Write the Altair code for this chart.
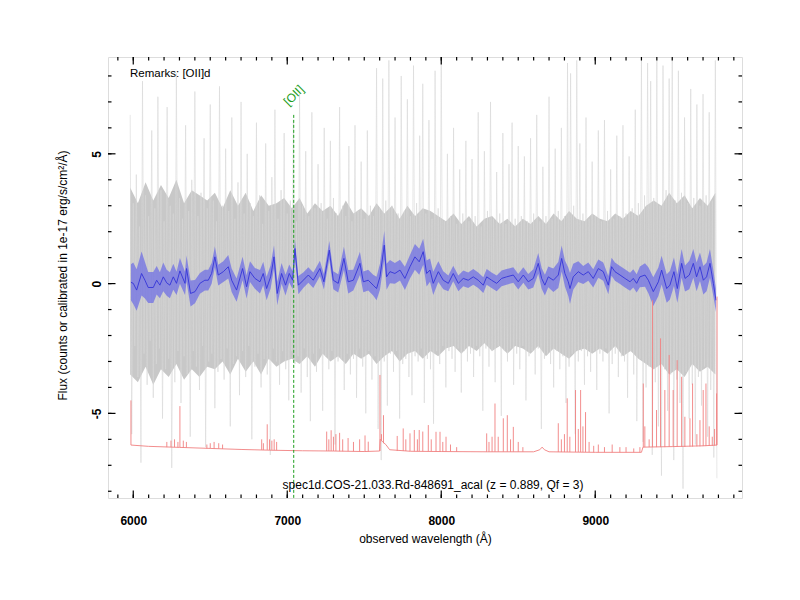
import altair as alt
import pandas as pd

# ---------------- data ----------------
# raw (noisy) spectrum, 10 A grid starting at 5980 A
gray_start, gray_step = 5980, 10
gray_flux = [
    6.5, -5.8, 3.1, -2.4, 4.2, -3.6, 2.2, -6.9, 7.8, -2.7, 3.4, -3.9, 2.6, -2.2, 5.9, -4.4, 2.9, -3.1, 7.2, -2.5,
    3.6, -5.2, 2.4, -3.3, 6.8, -2.9, 3.0, -7.1, 2.7, -3.8, 8.1, -2.6, 3.3, -4.6, 2.5, -2.8, 6.1, -3.5, 2.8, -5.9,
    4.0, -2.6, 7.4, -3.2, 2.6, -4.1, 3.5, -2.4, 5.6, -6.3, 2.9, -3.0, 6.9, -2.7, 3.2, -4.8, 2.4, -3.4, 7.6, -2.9,
    3.0, -3.7, 5.2, -2.5, 2.8, -5.5, 6.4, -3.1, 2.5, -2.8, 3.9, -4.3, 7.0, -2.6, 2.7, -3.6, 5.0, -2.4, 3.1, -6.0,
    2.6, -3.2, 6.2, -2.7, 3.4, -4.0, 2.3, -2.9, 5.4, -3.5, 2.8, -6.6, 4.1, -2.5, 6.7, -3.0, 2.5, -3.9, 3.6, -2.6,
    5.8, -3.3, 2.7, -4.5, 3.2, -2.6, 6.3, -3.1, 2.4, -2.8, 7.3, -4.2, 3.0, -2.5, 5.1, -3.6, 2.6, -5.3, 6.6, -2.7,
    2.9, -3.4, 4.6, -2.5, 3.1, -4.9, 6.0, -2.8, 2.5, -3.3, 5.5, -2.6, 3.3, -6.2, 2.7, -3.0, 6.8, -2.9, 3.0, -4.1,
    2.6, -2.7, 5.3, -3.5, 2.4, -2.9, 6.1, -4.4, 2.8, -2.5, 4.7, -3.2, 2.5, -5.0, 5.9, -2.6, 3.0, -3.7, 2.6, -2.8,
    8.3, -5.6, 2.9, -6.8, 7.9, -3.0, 3.2, -4.7, 8.6, -2.7, 3.0, -3.4, 6.4, -2.6, 2.7, -5.2, 8.0, -3.1, 2.8, -2.9,
    7.1, -3.6, 2.6, -4.3, 8.4, -2.8, 3.1, -3.0, 5.7, -2.5, 7.7, -4.6, 2.7, -2.9, 6.3, -3.3, 2.5, -5.4, 8.2, -2.6,
    2.9, -3.1, 8.7, -2.4, 2.4, -4.0, 5.0, -2.6, 2.6, -2.9, 6.0, -3.4, 2.3, -2.5, 4.4, -4.2, 2.7, -2.6, 5.5, -3.0,
    2.4, -2.7, 4.8, -3.6, 2.6, -2.4, 6.6, -2.8, 2.2, -4.9, 5.1, -2.5, 2.8, -3.2, 7.0, -2.6, 2.5, -3.8, 4.3, -2.4,
    2.7, -5.1, 5.8, -2.6, 2.3, -3.0, 4.6, -2.5, 6.2, -3.9, 2.5, -2.7, 5.3, -3.3, 2.6, -2.4, 4.9, -4.5, 2.4, -2.8,
    5.6, -2.6, 2.7, -3.5, 6.5, -2.5, 2.4, -5.6, 4.5, -2.9, 2.6, -2.7, 7.2, -3.1, 2.5, -4.0, 5.2, -2.6, 2.8, -3.3,
    6.0, -2.8, 2.6, -4.6, 8.5, -3.2, 8.1, -2.7, 3.0, -5.8, 8.6, -3.0, 5.4, -2.6, 2.7, -3.9, 6.4, -2.8, 2.5, -3.4,
    4.7, -2.6, 2.6, -4.1, 5.9, -2.7, 2.4, -3.0, 6.3, -2.5, 2.8, -5.0, 4.4, -3.1, 2.5, -2.7, 5.7, -3.6, 2.6, -2.8,
    6.1, -3.0, 2.7, -4.4, 4.9, -2.6, 2.9, -3.5, 6.7, -5.3, 3.1, -2.9, 8.7, -6.1, 3.4, -4.0, 8.5, -3.2, 7.8, -6.6,
    3.3, -3.8, 8.6, -5.5, 3.0, -7.4, 8.4, -3.3, 3.6, -4.9, 7.9, -3.5, 8.7, -6.8, 3.2, -3.7, 8.2, -4.6, 3.5, -7.9,
    6.4, -3.4, 3.1, -5.2, 7.5, -3.9, 3.3, -6.2, 6.9, -3.6, 3.0, -4.7, 7.3, -3.2, 3.4, -5.9, 6.6, -4.1, 3.2, -6.7,
    8.6, -7.5,
]

# dense core of the raw spectrum (upper / lower edge), 50 A grid starting at 5980 A
core_start, core_step = 5980, 50
core_hi = [
    3.7, 3.1, 3.9, 3.2, 3.8, 3.3, 4.0, 3.1, 3.6, 3.4, 3.2,
    3.5, 2.9, 3.6, 3.0, 3.5, 2.8, 3.4, 3.0, 3.1, 3.3,
    2.9, 3.3, 2.7, 3.1, 2.8, 3.0, 2.6, 3.2, 2.7, 2.9,
    2.6, 3.1, 2.7, 3.0, 2.5, 3.0, 2.6, 2.9, 2.8, 2.6,
    2.4, 2.7, 2.3, 2.6, 2.2, 2.5, 2.6, 2.3, 2.5, 2.2,
    2.5, 2.3, 2.6, 2.3, 2.7, 2.4, 2.8, 2.5, 2.4, 2.7,
    2.5, 2.4, 2.7, 2.5, 2.8, 2.6, 3.0, 3.2, 3.0, 3.5,
    3.1, 3.4, 2.9, 3.3, 3.0, 3.5,
]
core_lo = [
    -3.5, -3.8, -3.2, -3.9, -3.3, -3.6, -3.1, -3.7, -3.3, -3.6, -3.2,
    -3.3, -3.0, -3.5, -2.9, -3.4, -3.0, -3.5, -2.9, -3.2, -3.0,
    -2.9, -3.1, -2.8, -3.2, -2.7, -3.0, -2.8, -3.1, -2.7, -2.9,
    -2.7, -3.1, -2.8, -2.6, -3.0, -2.7, -2.6, -2.9, -2.6, -2.8,
    -2.5, -2.4, -2.7, -2.4, -2.6, -2.3, -2.6, -2.4, -2.7, -2.4,
    -2.5, -2.7, -2.4, -2.8, -2.5, -2.7, -2.9, -2.6, -2.5, -2.7,
    -2.5, -2.7, -2.4, -2.8, -2.6, -2.9, -3.1, -3.3, -3.1, -3.5,
    -3.3, -3.6, -3.1, -3.4, -3.2, -3.5,
]

# smoothed spectrum and its uncertainty band
blue_wl = [
    5985, 6000, 6022, 6054, 6076, 6097, 6130, 6152, 6173, 6195, 6217, 6238, 6260, 6281, 6303, 6336, 6346, 6372,
    6401, 6433, 6465, 6487, 6509, 6530, 6552, 6585, 6617, 6639, 6671, 6710, 6736, 6758, 6790, 6823, 6844, 6866,
    6892, 6914, 6935, 6963, 6989, 7013, 7035, 7050, 7072, 7104, 7137, 7169, 7212, 7238, 7273, 7299, 7331,
    7368, 7396, 7429, 7472, 7494, 7526, 7558, 7580, 7602, 7630, 7645, 7667, 7699, 7732, 7764, 7797, 7829, 7857,
    7883, 7905, 7927, 7948, 7981, 8013, 8046, 8078, 8111, 8143, 8175, 8208, 8240, 8273, 8295, 8327, 8360, 8392,
    8424, 8468, 8500, 8533, 8565, 8598,
    8630, 8652, 8673, 8695, 8728, 8760, 8782, 8803, 8825, 8836, 8857, 8890, 8922, 8955, 8987, 9020, 9052, 9085,
    9106, 9128, 9161, 9193, 9226, 9247, 9269, 9290, 9323, 9345, 9377, 9410, 9431, 9464, 9485, 9511, 9533, 9561,
    9583, 9611, 9637, 9658, 9680, 9702, 9723, 9745, 9767, 9784,
]
blue_flux = [
    0.05, 0.01, -0.25, 0.39, 0.13, -0.15, -0.15, 0.13, -0.06, 0.26, 0.03, -0.06, 0.26, 0.01, 0.49, 0.01, 0.58, -0.38,
    -0.31, 0.01, 0.13, 0.13, 0.39, 1.03, 0.33, 0.46, 0.65, 0.13, -0.25, 0.58, -0.12, 0.46, 0.20, 0.07, 0.39, -0.19,
    0.26, 1.03, -0.38, 0.39, -0.06, 0.39, 0.13, 1.35, -0.06, 0.13, 0.33, 0.13, 0.58, 0.07, 1.29, 0.13, 0.01,
    0.97, 0.07, 0.13, 0.78, 0.07, 0.13, -0.06, -0.19, 0.26, 1.48, 0.26, 0.46, 0.39, 0.52, 0.20, 0.65, 1.03, 0.84,
    1.23, 0.39, 0.52, 0.01, 0.46, 0.13, 0.01, 0.39, 0.01, 0.20, 0.13, 0.26, 0.13, -0.06, 0.26, 0.13, 0.01, 0.20,
    0.26, 0.33, 0.07, 0.33, 0.07, 0.20,
    0.78, 0.20, -0.06, 0.26, 0.13, 0.33, 0.97, 0.39, 0.07, -0.19, 0.26, 0.46, 0.33, 0.46, 0.20, 0.58, 0.46, -0.06,
    0.65, 0.46, 0.33, 0.20, 0.07, 0.20, 0.01, 0.26, 0.33, 0.13, -0.31, 0.07, 0.52, -0.19, -0.06, 0.46, -0.19, 0.78,
    0.20, 0.33, 0.78, 0.26, 0.65, 0.13, 0.26, 0.78, 0.01, -0.64,
]
blue_err = [
    0.7, 0.8, 0.8, 0.85, 0.7, 0.6, 0.6, 0.55, 0.5, 0.55, 0.5, 0.5, 0.5, 0.45, 0.5, 0.45, 0.5, 0.5,
    0.45, 0.4, 0.4, 0.4, 0.4, 0.4, 0.4, 0.4, 0.45, 0.45, 0.45, 0.45, 0.45, 0.4, 0.4, 0.45, 0.45, 0.45,
    0.45, 0.45, 0.45, 0.4, 0.4, 0.35, 0.35, 0.35, 0.35, 0.3, 0.3, 0.3, 0.3, 0.3, 0.35, 0.35, 0.35,
    0.45, 0.45, 0.4, 0.45, 0.4, 0.4, 0.4, 0.45, 0.5, 0.55, 0.5, 0.45, 0.4, 0.4, 0.45, 0.45, 0.5, 0.5,
    0.5, 0.5, 0.45, 0.45, 0.4, 0.35, 0.3, 0.3, 0.3, 0.3, 0.3, 0.3, 0.3, 0.3, 0.3, 0.3, 0.3, 0.3,
    0.3, 0.3, 0.3, 0.3, 0.3, 0.35,
    0.4, 0.4, 0.4, 0.4, 0.45, 0.5, 0.5, 0.5, 0.55, 0.6, 0.5, 0.4, 0.35, 0.35, 0.35, 0.35, 0.35, 0.35,
    0.35, 0.35, 0.35, 0.35, 0.35, 0.35, 0.35, 0.4, 0.45, 0.5, 0.55, 0.55, 0.55, 0.55, 0.55, 0.55, 0.55, 0.55,
    0.5, 0.55, 0.55, 0.55, 0.55, 0.55, 0.55, 0.55, 0.5, 0.45,
]

# sky spectrum: continuum and emission lines (wavelength, peak, base)
sky_cont_wl = [5985, 6100, 6300, 6500, 6700, 6900, 7100, 7300, 7500, 7600, 7604, 7620, 7640, 7665, 7800,
               8000, 8300, 8600, 8640, 8655, 8670, 8700, 9000, 9300, 9310, 9500, 9700, 9790]
sky_cont_flux = [-6.22, -6.27, -6.31, -6.35, -6.39, -6.42, -6.44, -6.45, -6.47, -6.45, -6.0, -6.1, -6.2, -6.4, -6.46,
                 -6.47, -6.48, -6.48, -6.4, -6.3, -6.4, -6.48, -6.5, -6.5, -6.3, -6.28, -6.25, -6.22]
sky_line_wl = [5985, 6218, 6245, 6268, 6290, 6303, 6325, 6345, 6478, 6500, 6525, 6555, 6580,
               6834, 6845, 6870, 6885, 6900, 6915, 6931, 7256, 7270, 7285, 7300, 7316, 7340, 7360, 7395,
               7430, 7470, 7505, 7526, 7602, 7612, 7625, 7714, 7753, 7770, 7797, 7825, 7845, 7857, 7880,
               7916, 7935, 7966, 7992, 8010, 8031, 8060, 8100, 8295, 8310, 8330, 8349, 8370, 8403, 8429,
               8450, 8468, 8500, 8530, 8760, 8780, 8800, 8818, 8835, 8872, 8890, 8905, 8920, 8937, 8960,
               8990, 9020, 9060, 9110, 9160, 9200, 9250, 9290, 9312, 9322, 9350, 9372, 9398, 9424, 9452,
               9480, 9506, 9532, 9561, 9582, 9615, 9632, 9660, 9680, 9701, 9719, 9740, 9760, 9775, 9788, 9791]
sky_line_peak = [-4.5, -6.1, -6.05, -6.0, -6.1, -4.72, -6.05, -6.1, -6.2, -6.15, -6.1, -6.15, -6.2,
                 -6.0, -6.15, -5.42, -6.0, -6.05, -6.0, -6.1, -5.7, -6.0, -5.65, -5.9, -5.8, -5.75, -6.0, -5.95,
                 -6.1, -6.0, -5.85, -6.09, -3.52, -5.8, -5.07, -5.87, -5.58, -6.0, -5.77, -5.64, -6.0, -5.64, -5.7,
                 -5.45, -6.0, -5.71, -5.71, -6.1, -5.9, -6.2, -6.3, -5.77, -6.1, -5.9, -4.62, -5.9, -5.19, -5.07,
                 -6.0, -5.52, -6.1, -6.3, -5.38, -6.0, -5.8, -4.42, -5.9, -4.1, -5.6, -4.1, -5.5, -4.95, -6.1,
                 -6.25, -6.2, -6.3, -6.2, -6.3, -6.3, -6.35, -6.3, -3.85, -5.5, -6.0, -0.64, -4.87, -2.11, -4.1,
                 -2.75, -4.1, -2.95, -3.59, -5.13, -5.19, -3.85, -5.8, -5.26, -4.1, -3.85, -5.5, -5.9, -5.6, -4.23, -0.5]
sky_line_base = [-6.22, -6.3, -6.3, -6.3, -6.31, -6.31, -6.32, -6.32, -6.35, -6.35, -6.36, -6.36, -6.37,
                 -6.41, -6.41, -6.41, -6.41, -6.42, -6.42, -6.42, -6.45, -6.45, -6.45, -6.45, -6.45, -6.46, -6.46, -6.46,
                 -6.46, -6.47, -6.47, -6.47, -6.45, -6.05, -6.15, -6.45, -6.45, -6.45, -6.46, -6.46, -6.46, -6.46, -6.46,
                 -6.46, -6.46, -6.47, -6.47, -6.47, -6.47, -6.47, -6.48, -6.48, -6.48, -6.48, -6.48, -6.48, -6.48, -6.48,
                 -6.48, -6.48, -6.48, -6.48, -6.49, -6.49, -6.49, -6.49, -6.49, -6.49, -6.49, -6.49, -6.49, -6.49, -6.49,
                 -6.5, -6.5, -6.5, -6.5, -6.5, -6.5, -6.5, -6.5, -6.3, -6.3, -6.3, -6.3, -6.3, -6.3, -6.3,
                 -6.29, -6.29, -6.29, -6.29, -6.29, -6.28, -6.28, -6.27, -6.27, -6.26, -6.26, -6.25, -6.25, -6.24, -6.23, -6.22]

oii_wl = 7042
oii_top = 6.5
oii_label_y = 7.25

x_major = [6000, 7000, 8000, 9000]
x_minor = list(range(5900, 10000, 100))
y_major = [-5, 0, 5]
y_minor = list(range(-8, 9))

remarks = "Remarks: [OII]d"
spec_label = "spec1d.COS-21.033.Rd-848691_acal (z = 0.889, Qf = 3)"
x_title = "observed wavelength (Å)"
y_title = "Flux (counts or calibrated in 1e-17 erg/s/cm²/Å)"

# ---------------- chart ----------------
W, H = 634, 441
FONT = "Liberation Sans"
xs = alt.Scale(domain=[5836, 9953], nice=False, zero=False)
ys = alt.Scale(domain=[-8.26, 8.73], nice=False, zero=False)

gray_df = pd.DataFrame({"wl": [gray_start + gray_step * i for i in range(len(gray_flux))], "f": gray_flux})
core_df = pd.DataFrame({"wl": [core_start + core_step * i for i in range(len(core_hi))],
                        "lo": core_lo, "hi": core_hi})
blue_df = pd.DataFrame({"wl": blue_wl, "f": blue_flux, "err": blue_err})
blue_df["lo"] = blue_df["f"] - blue_df["err"]
blue_df["hi"] = blue_df["f"] + blue_df["err"]
cont_df = pd.DataFrame({"wl": sky_cont_wl, "f": sky_cont_flux})
lines_df = pd.DataFrame({"wl": sky_line_wl, "peak": sky_line_peak, "base": sky_line_base})

xaxis = alt.Axis(values=x_major, ticks=False, tickSize=0, domain=False, grid=False,
                 labelFont=FONT, labelFontSize=12, labelFontWeight="bold", labelColor="black",
                 labelPadding=22, labelBaseline="middle", labelExpr="'' + datum.value",
                 title=x_title, titleFont=FONT, titleFontSize=12, titleFontWeight="normal",
                 titleColor="black", titleY=40, titleBaseline="middle", titleX=W / 2, titleAlign="center")
yaxis = alt.Axis(values=y_major, ticks=False, tickSize=0, domain=False, grid=False,
                 labelFont=FONT, labelFontSize=12, labelFontWeight="bold", labelColor="black",
                 labelAngle=270, labelAlign="center", labelBaseline="middle", labelPadding=12,
                 labelExpr="'' + datum.value",
                 title=y_title, titleFont=FONT, titleFontSize=12, titleFontWeight="normal",
                 titleColor="black", titleAngle=270, titleX=-46, titleY=218, titleAlign="center",
                 titleBaseline="middle")


def X(field):
    return alt.X(field, scale=xs, axis=xaxis)


def Y(field):
    return alt.Y(field, scale=ys, axis=yaxis)


core = alt.Chart(core_df).mark_area(color="#c8c8c8", clip=True).encode(
    x=X("wl:Q"), y=Y("lo:Q"), y2="hi:Q")
gray = alt.Chart(gray_df).mark_line(color="#d6d6d6", strokeWidth=0.6, clip=True).encode(
    x=X("wl:Q"), y=Y("f:Q"))
band = alt.Chart(blue_df).mark_area(color="#6a6ae6", opacity=0.7, clip=True).encode(
    x=X("wl:Q"), y=Y("lo:Q"), y2="hi:Q")
bline = alt.Chart(blue_df).mark_line(color="#3434d8", strokeWidth=0.9, clip=True).encode(
    x=X("wl:Q"), y=Y("f:Q"))
sky_c = alt.Chart(cont_df).mark_line(color="#f08080", strokeWidth=0.9, clip=True).encode(
    x=X("wl:Q"), y=Y("f:Q"))
sky_l = alt.Chart(lines_df).mark_rule(color="#f08080", strokeWidth=0.9, clip=True).encode(
    x=X("wl:Q"), y=Y("peak:Q"), y2="base:Q")
oii_df = pd.DataFrame({"wl": [oii_wl], "top": [oii_top], "ly": [oii_label_y], "t": ["[OII]"]})
oii_rule = alt.Chart(oii_df).mark_rule(color="#1e9e1e", strokeWidth=1, strokeDash=[3, 2]).encode(
    x=X("wl:Q"), y=Y("top:Q"), y2=alt.value(H))
oii_text = alt.Chart(oii_df).mark_text(color="#1e9e1e", font=FONT, fontSize=12, angle=315,
                                       align="center", baseline="middle").encode(
    x=X("wl:Q"), y=Y("ly:Q"), text="t:N")
rem = alt.Chart(pd.DataFrame({"t": [remarks]})).mark_text(
    font=FONT, fontSize=11.5, color="black", align="left", baseline="middle").encode(
    x=alt.value(22), y=alt.value(17), text="t:N")
spec = alt.Chart(pd.DataFrame({"t": [spec_label]})).mark_text(
    font=FONT, fontSize=12, color="black", align="center", baseline="middle").encode(
    x=alt.value(325), y=alt.value(428), text="t:N")

xmin_df = pd.DataFrame({"t": x_minor})
xmaj_df = pd.DataFrame({"t": x_major})
ymin_df = pd.DataFrame({"t": y_minor})
ymaj_df = pd.DataFrame({"t": y_major})


def xticks(df, ln):
    b = alt.Chart(df).mark_rule(color="black", strokeWidth=1.2, clip=True).encode(
        x=X("t:Q"), y=alt.value(H), y2=alt.value(H - ln))
    t = alt.Chart(df).mark_rule(color="black", strokeWidth=1.2, clip=True).encode(
        x=X("t:Q"), y=alt.value(0), y2=alt.value(ln))
    return [b, t]


def yticks(df, ln):
    l = alt.Chart(df).mark_rule(color="black", strokeWidth=1.2, clip=True).encode(
        y=Y("t:Q"), x=alt.value(0), x2=alt.value(ln))
    r = alt.Chart(df).mark_rule(color="black", strokeWidth=1.2, clip=True).encode(
        y=Y("t:Q"), x=alt.value(W), x2=alt.value(W - ln))
    return [l, r]


layers = [core, gray, band, bline, sky_c, sky_l, oii_rule, oii_text, rem, spec]
layers += xticks(xmin_df, 3.5) + xticks(xmaj_df, 7.5) + yticks(ymin_df, 3.5) + yticks(ymaj_df, 7.5)

chart = alt.layer(*layers).properties(
    width=W, height=H,
    autosize=alt.AutoSizeParams(type="none"),
    padding={"left": 100, "top": 49, "right": 50, "bottom": 94},
    background="white",
).configure_view(stroke="black", strokeWidth=1.6).configure(font=FONT)

chart.save("out.html", embed_options={"renderer": "svg", "actions": False})
